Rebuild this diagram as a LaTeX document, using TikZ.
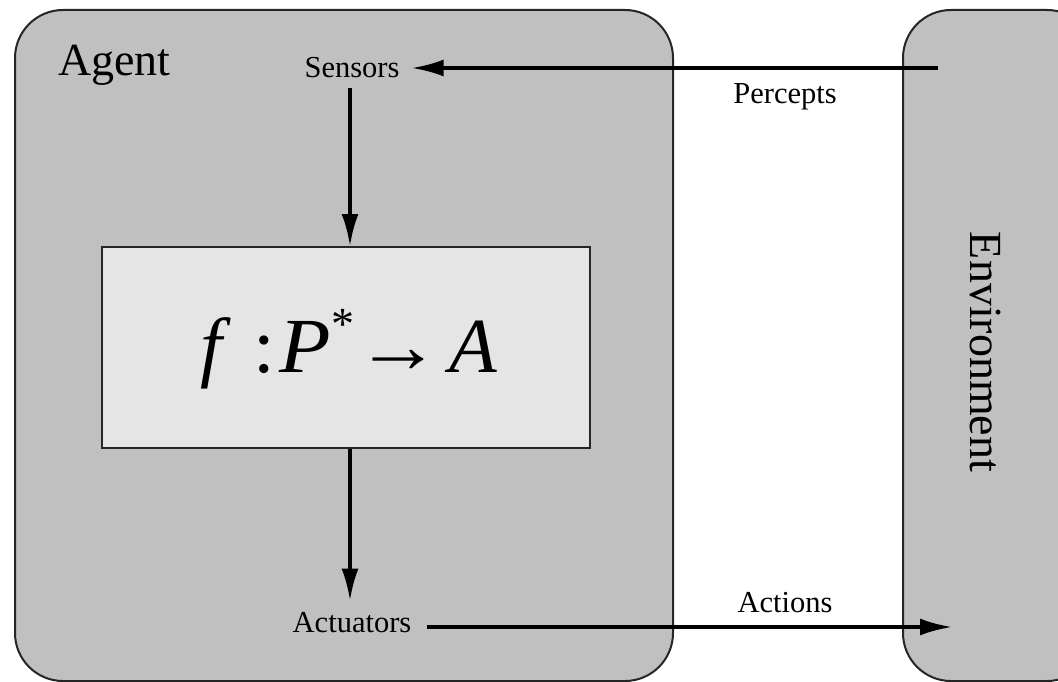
\documentclass[tikz,border=0pt]{standalone}
\usepackage{fontspec}
\setmainfont{Liberation Serif}
\usetikzlibrary{arrows.meta}
\definecolor{agentgray}{HTML}{C0C0C0}
\definecolor{funcgray}{HTML}{E5E5E5}
\tikzset{
  boxline/.style={draw=black!85, line width=2pt},
  flow/.style={line width=3.6pt, -{Latex[length=32pt,width=17pt]}},
  small/.style={font=\fontsize{30.5}{34}\selectfont, inner sep=0pt},
  big/.style={font=\fontsize{46}{50}\selectfont, inner sep=0pt},
}
\begin{document}
\begin{tikzpicture}[x=1pt,y=-1pt]
\useasboundingbox (0,0) rectangle (1058,682);
\fill[white] (0,0) rectangle (1058,682);
\begin{scope}
\clip (0,0) rectangle (1058,682);
% agent and environment
\path[boxline, fill=agentgray, rounded corners=48pt] (15,10) rectangle (673,681);
\path[boxline, fill=agentgray, rounded corners=48pt] (903,10) rectangle (1095,681);
\end{scope}
\node[big, anchor=base west] (agent) at (58,76) {Agent};
\node[big, rotate=-90] (env) at (985,352) {Environment};
% function box
\node[boxline, fill=funcgray, minimum width=488pt, minimum height=201pt, inner sep=0pt] (func) at (346,347.5) {};
\node[font=\fontsize{78}{84}\selectfont, inner sep=0pt, anchor=base] (formula) at (349,372)
  {\textit{f}\hspace{0.28em}:\hspace{0.06em}\scalebox{1.08}[1]{\textit{P}}\raisebox{0.42em}{\fontsize{46}{50}\selectfont *}\hspace{0.02em}\scalebox{1.1}[1]{\char"2192}\hspace{0.1em}\textit{A}};
% labels
\node[small] (sensors) at (352,68) {Sensors};
\node[small] (actuators) at (352,623) {Actuators};
\node[small] (percepts) at (785,97) {Percepts};
\node[small] (actions) at (785,603) {Actions};
% connectors
\coordinate (ptail) at (938,68);
\coordinate (ahead) at (952,627);
\draw[flow] (ptail) -- ([xshift=12pt]sensors.east);
\draw[flow] ([xshift=4pt,yshift=-10pt]sensors.south -| func.north) -- ([xshift=4pt]func.north);
\draw[flow] ([xshift=4pt]func.south) -- ([xshift=4pt,yshift=12pt]actuators.north -| func.south);
\draw[flow] ([xshift=16pt]actuators.east |- ahead) -- (ahead);
\end{tikzpicture}
\end{document}
